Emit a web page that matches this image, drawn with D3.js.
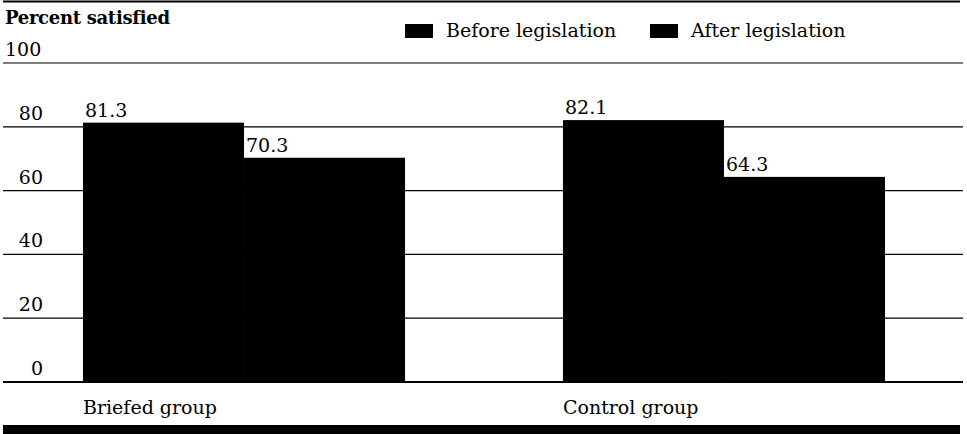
<!DOCTYPE html>
<html>
<head>
    <meta charset="utf-8">
    <title>Percent satisfied</title>
    <script src="https://d3js.org/d3.v7.min.js"></script>
    <style>
        body {
            margin: 0;
            background-color: white;
        }
        svg {
            display: block;
        }
        .grid line {
            stroke: black;
        }
        .label {
            font-family: "DejaVu Serif", "Liberation Serif", serif;
            font-size: 19px;
            fill: black;
        }
        .title {
            font-size: 18px;
            letter-spacing: -0.3px;
        }
    </style>
</head>
<body>
    <svg width="967" height="434"></svg>

    <script>
        const groups = ["Briefed group", "Control group"];
        const series = ["Before legislation", "After legislation"];
        const before = [81.3, 82.1];
        const after = [70.3, 64.3];
        const yTicks = [0, 20, 40, 60, 80, 100];

        const data = groups.map((g, i) => ({ group: g, values: [before[i], after[i]] }));

        const svg = d3.select("svg");

        const y = d3.scaleLinear()
                    .domain([0, 100])
                    .range([382, 63]);

        const x0 = d3.scaleBand()
                     .domain(groups)
                     .range([83, 885])
                     .paddingInner(0.329)
                     .paddingOuter(0);

        const x1 = d3.scaleBand()
                     .domain(series)
                     .range([0, x0.bandwidth()])
                     .padding(0);

        // top rule and bottom band
        svg.append("line")
           .attr("x1", 3).attr("x2", 960)
           .attr("y1", 1.5).attr("y2", 1.5)
           .attr("stroke", "black")
           .attr("stroke-width", 1.8);

        svg.append("rect")
           .attr("x", 3).attr("y", 425)
           .attr("width", 957).attr("height", 9)
           .attr("fill", "black");

        // gridlines
        const grid = svg.append("g").attr("class", "grid");
        grid.selectAll("line")
            .data(yTicks)
            .enter()
            .append("line")
            .attr("x1", 3)
            .attr("x2", 963)
            .attr("y1", d => y(d))
            .attr("y2", d => y(d))
            .attr("stroke-width", d => d === 0 ? 2.2 : 1.2);

        // tick labels
        svg.selectAll(".tick-label")
           .data(yTicks)
           .enter()
           .append("text")
           .attr("class", "label tick-label")
           .attr("x", d => d === 100 ? 5 : 43)
           .attr("y", d => y(d) - 7)
           .attr("text-anchor", d => d === 100 ? "start" : "end")
           .text(d => d);

        svg.append("text")
           .attr("class", "label title")
           .attr("x", 5)
           .attr("y", 24)
           .attr("font-weight", "bold")
           .text("Percent satisfied");

        // bars
        const bars = svg.selectAll(".group")
                        .data(data)
                        .enter()
                        .append("g")
                        .attr("class", "group")
                        .attr("transform", d => `translate(${x0(d.group)},0)`);

        bars.selectAll("rect")
            .data(d => d.values.map((v, j) => ({ key: series[j], value: v })))
            .enter()
            .append("rect")
            .attr("x", d => x1(d.key))
            .attr("y", d => y(d.value))
            .attr("width", x1.bandwidth())
            .attr("height", d => y(0) - y(d.value))
            .attr("fill", "black");

        bars.selectAll(".value")
            .data(d => d.values.map((v, j) => ({ key: series[j], value: v })))
            .enter()
            .append("text")
            .attr("class", "label value")
            .attr("x", d => x1(d.key) + 2)
            .attr("y", d => y(d.value) - 6)
            .text(d => d.value.toFixed(1));

        // category labels
        svg.selectAll(".cat")
           .data(groups)
           .enter()
           .append("text")
           .attr("class", "label cat")
           .attr("x", d => x0(d))
           .attr("y", 414)
           .text(d => d);

        // legend
        const legendX = [405, 650];
        const legend = svg.selectAll(".legend")
                          .data(series)
                          .enter()
                          .append("g")
                          .attr("class", "legend")
                          .attr("transform", (d, i) => `translate(${legendX[i]},24)`);

        legend.append("rect")
              .attr("width", 28)
              .attr("height", 14)
              .attr("fill", "black");

        legend.append("text")
              .attr("class", "label")
              .attr("x", 41)
              .attr("y", 13)
              .text(d => d);
    </script>
</body>
</html>
